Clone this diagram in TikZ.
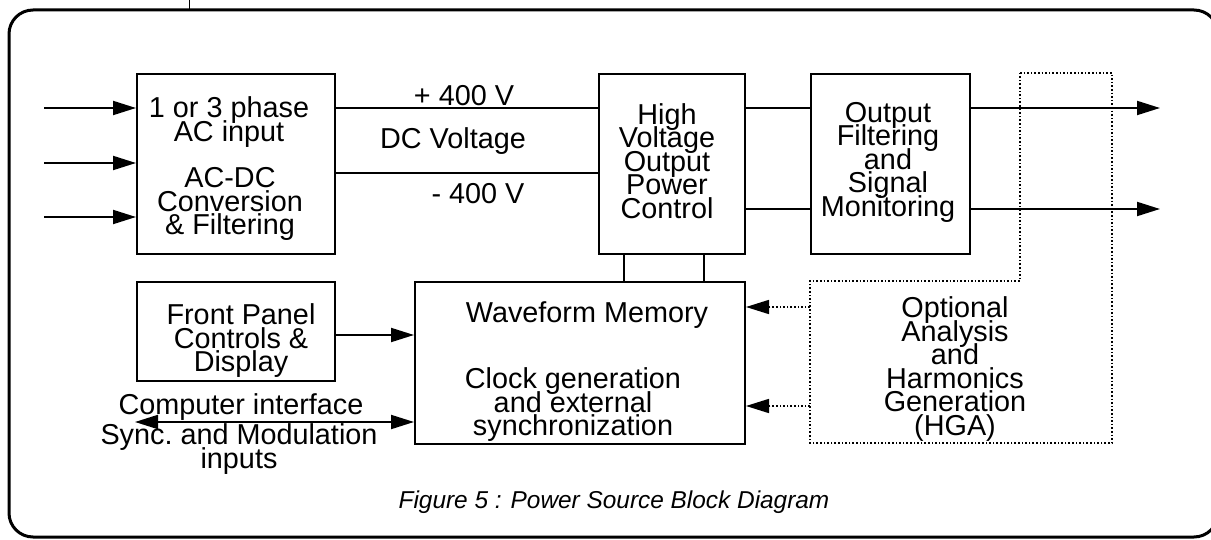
\documentclass[tikz,border=0pt]{standalone}
\usepackage{fontspec}
\setmainfont{Liberation Sans}
\usetikzlibrary{arrows.meta}
\newcommand\mytightlines{\lineskiplimit=-100pt\relax\lineskip=0pt\relax\frenchspacing}
\begin{document}
\begin{tikzpicture}[x=1pt,y=-1pt,
  box/.style={draw,line width=2pt,inner sep=0pt,anchor=north west},
  lbl/.style={inner sep=0pt,align=center,font=\fontsize{28.8}{23.5}\selectfont\mytightlines},
  captext/.style={inner sep=0pt,font=\fontsize{24.4}{28}\selectfont\itshape},
  wire/.style={line width=2pt},
  tip/.style={-{Triangle[length=23pt,width=14pt]}},
  arr/.style={wire,tip},
  dotw/.style={line width=1.6pt,dotted}]
\useasboundingbox (0,0) rectangle (1211,540);
\clip (0,0) rectangle (1211,540);
% frame
\draw[line width=3pt,rounded corners=24pt] (9,10) rectangle (1218,537);
\draw[line width=1pt] (189,0) -- (189,10);
% boxes
\node[box,minimum width=198pt,minimum height=180pt] (ac) at (136,73) {};
\node[box,minimum width=146pt,minimum height=180pt] (hv) at (598,73) {};
\node[box,minimum width=159pt,minimum height=180pt] (of) at (810,73) {};
\node[box,minimum width=198pt,minimum height=99pt] (fp) at (136,281) {};
\node[box,minimum width=330pt,minimum height=162pt] (wf) at (414,281) {};
% HGA dotted outline
\draw[dotw] (1020,73) -- (1112,73) -- (1112,443) -- (810,443) -- (810,281) -- (1020,281) -- cycle;
% helper coordinates
\coordinate (yA) at (0,108);
\coordinate (yB) at (0,173);
\coordinate (yC) at (0,209);
\coordinate (yD) at (0,335);
\coordinate (xA) at (624,0);
\coordinate (xB) at (704,0);
\coordinate (in1) at (44,108);
\coordinate (in2) at (44,163);
\coordinate (in3) at (44,217);
\coordinate (o1) at (1160,108);
\coordinate (o2) at (1160,209);
\coordinate (ci) at (135,422);
\coordinate (h1) at (810,307);
\coordinate (h2) at (810,406);
% connectors
\draw[arr] (in1) -- (in1 -| ac.west);
\draw[arr] (in2) -- (in2 -| ac.west);
\draw[arr] (in3) -- (in3 -| ac.west);
\draw[wire] (ac.east |- yA) -- (hv.west |- yA);
\draw[wire] (ac.east |- yB) -- (hv.west |- yB);
\draw[wire] (hv.east |- yA) -- (of.west |- yA);
\draw[wire] (hv.east |- yC) -- (of.west |- yC);
\draw[arr] (of.east |- yA) -- (o1);
\draw[arr] (of.east |- yC) -- (o2);
\draw[wire] (hv.south -| xA) -- (wf.north -| xA);
\draw[wire] (hv.south -| xB) -- (wf.north -| xB);
\draw[arr] (fp.east |- yD) -- (wf.west |- yD);
\draw[wire,{Triangle[length=23pt,width=14pt]}-{Triangle[length=23pt,width=14pt]}] (ci) -- (ci -| wf.west);
\draw[dotw,tip] (h1) -- (h1 -| wf.east);
\draw[dotw,tip] (h2) -- (h2 -| wf.east);
% texts
\node[lbl] (t1) at (229,122) {1 or 3 phase\\AC input};
\node[lbl] (t2) at (230,204) {AC-DC\\Conversion\\\& Filtering};
\node[lbl] (t3) at (464,96) {+ 400 V};
\node[lbl] (t4) at (453,141) {DC Voltage};
\node[lbl] (t5) at (478,194) {- 400 V};
\node[lbl] (t6) at (667,161) {High\\Voltage\\Output\\Power\\Control};
\node[lbl] (t7) at (888,162) {Output\\Filtering\\and\\Signal\\Monitoring};
\node[lbl] (t8) at (955,369) {Optional\\Analysis\\and\\Harmonics\\Generation\\(HGA)};
\node[lbl] (t9) at (587,315) {Waveform Memory};
\node[lbl] (t10) at (573,405) {Clock generation\\and external\\synchronization};
\node[lbl] (t11) at (241,341) {Front Panel\\Controls \&\\Display};
\node[lbl] (t12) at (241,407) {Computer interface};
\node[lbl] (t13) at (239,449) {Sync. and Modulation\\inputs};
\node[captext] (t14) at (614,502) {Figure 5 : Power Source Block Diagram};
\end{tikzpicture}
\end{document}
